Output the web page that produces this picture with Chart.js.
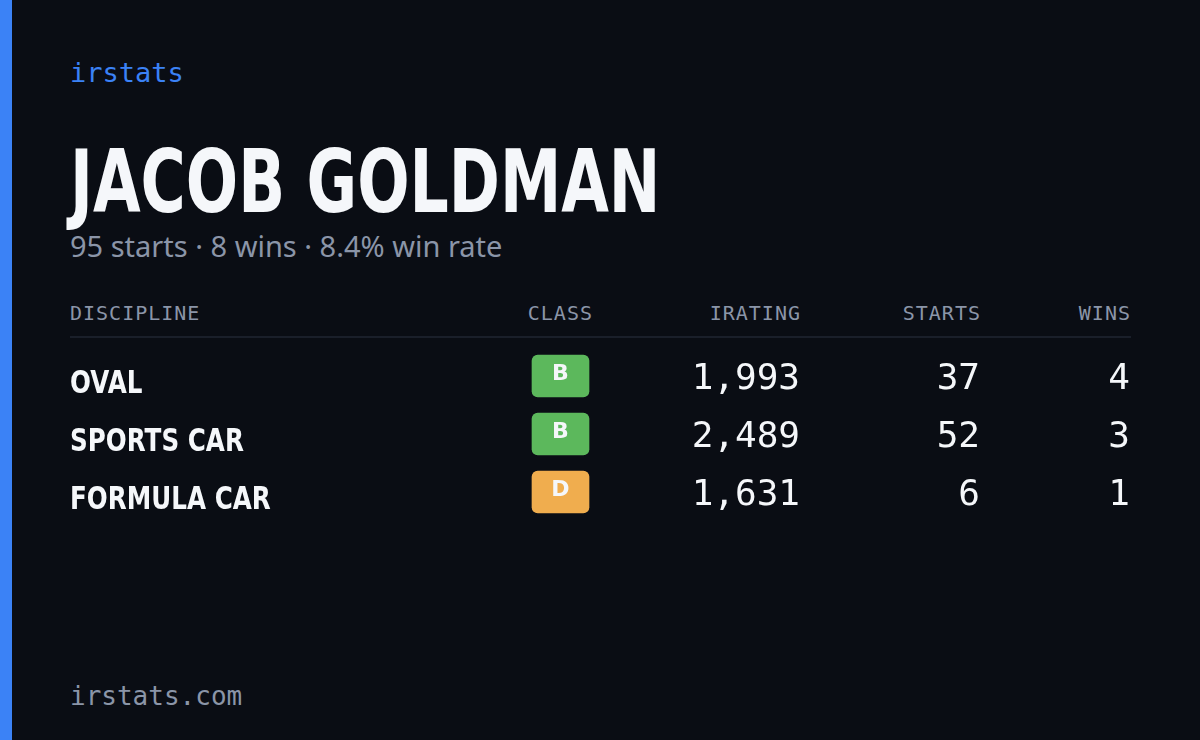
<!DOCTYPE html>
<html><head><meta charset="utf-8">
<script src="https://cdn.jsdelivr.net/npm/chart.js@4"></script>
<style>
html,body{margin:0;padding:0;background:#0a0d14;width:1200px;height:740px;overflow:hidden;position:relative;font-family:'DejaVu Sans Mono',monospace}
#bar{position:absolute;left:0;top:0;width:12px;height:740px;background:#3b82f6}
.t{position:absolute;white-space:nowrap}
#brand{left:70px;top:57px;font-size:27px;color:#3b82f6}
#name{left:70px;top:132px;font-family:'DejaVu Sans',sans-serif;font-weight:bold;font-size:88px;color:#f5f7fa;line-height:100px;transform:scaleX(0.7);transform-origin:left top}
#sub{left:70px;top:226px;font-family:'Noto Sans',sans-serif;font-size:29px;color:#8b95a8}
.h{top:301px;font-size:20px;color:#8b95a8;letter-spacing:1px}
#line{position:absolute;left:70px;top:336px;width:1061px;height:2px;background:#1a1f2a}
#foot{left:70px;top:681px;font-size:26px;color:#8b95a8}
#wrap{position:absolute;left:0;top:351px;width:1200px;height:174px}
</style></head><body>
<div id="bar"></div>
<div class="t" id="brand">irstats</div>
<div class="t" id="name">JACOB GOLDMAN</div>
<div class="t" id="sub">95 starts · 8 wins · 8.4% win rate</div>
<div class="t h" style="right:607px">CLASS</div>
<div class="t h" style="left:70px">DISCIPLINE</div>
<div class="t h" style="right:399px">IRATING</div>
<div class="t h" style="right:219px">STARTS</div>
<div class="t h" style="right:69px">WINS</div>
<div id="line"></div>
<div class="t" id="foot">irstats.com</div>
<div id="wrap"><canvas id="c"></canvas></div>
<script>
const disciplines=['OVAL','SPORTS CAR','FORMULA CAR'];
const classes=['B','B','D'];
const iratings=[1993,2489,1631];
const starts=[37,52,6];
const wins=[4,3,1];
const classColors={B:'#5cb85c',D:'#f0ad4e'};

const textPlugin={id:'txt',afterDatasetsDraw(chart){
  const ctx=chart.ctx,y=chart.scales.y,x=chart.scales.x;
  ctx.save();ctx.textBaseline='middle';
  disciplines.forEach((d,i)=>{
    const py=y.getPixelForValue(i);
    ctx.fillStyle='#f5f7fa';
    ctx.save();
    ctx.translate(x.getPixelForValue(70),py+9);ctx.scale(0.77,1);
    ctx.font="bold 32px 'DejaVu Sans',sans-serif";
    ctx.textAlign='left';ctx.fillText(d,0,0);
    ctx.restore();
    ctx.font="bold 22px 'DejaVu Sans',sans-serif";ctx.textAlign='center';
    ctx.fillText(classes[i],x.getPixelForValue(560.5),py-2);
    ctx.font="36px 'DejaVu Sans Mono',monospace";ctx.textAlign='right';
    ctx.fillText(iratings[i].toLocaleString('en-US'),x.getPixelForValue(800),py+4);
    ctx.fillText(String(starts[i]),x.getPixelForValue(980),py+4);
    ctx.fillText(String(wins[i]),x.getPixelForValue(1130),py+4);
  });
  ctx.restore();
}};

new Chart(document.getElementById('c'),{
  type:'bar',
  data:{labels:disciplines,datasets:[{
    data:classes.map(()=>[532,589]),
    backgroundColor:classes.map(c=>classColors[c]),
    borderRadius:6,borderSkipped:false,barThickness:42
  }]},
  options:{indexAxis:'y',responsive:true,maintainAspectRatio:false,animation:false,
    layout:{padding:0},
    plugins:{legend:{display:false},tooltip:{enabled:false}},
    scales:{x:{type:'linear',min:0,max:1200,display:false},
            y:{display:false,offset:true}}},
  plugins:[textPlugin,{id:'shift',beforeDatasetsDraw(ch){ch.ctx.save();ch.ctx.translate(0,-4);},afterDatasetsDraw(ch){ch.ctx.restore();}}]
});
</script>
</body></html>
